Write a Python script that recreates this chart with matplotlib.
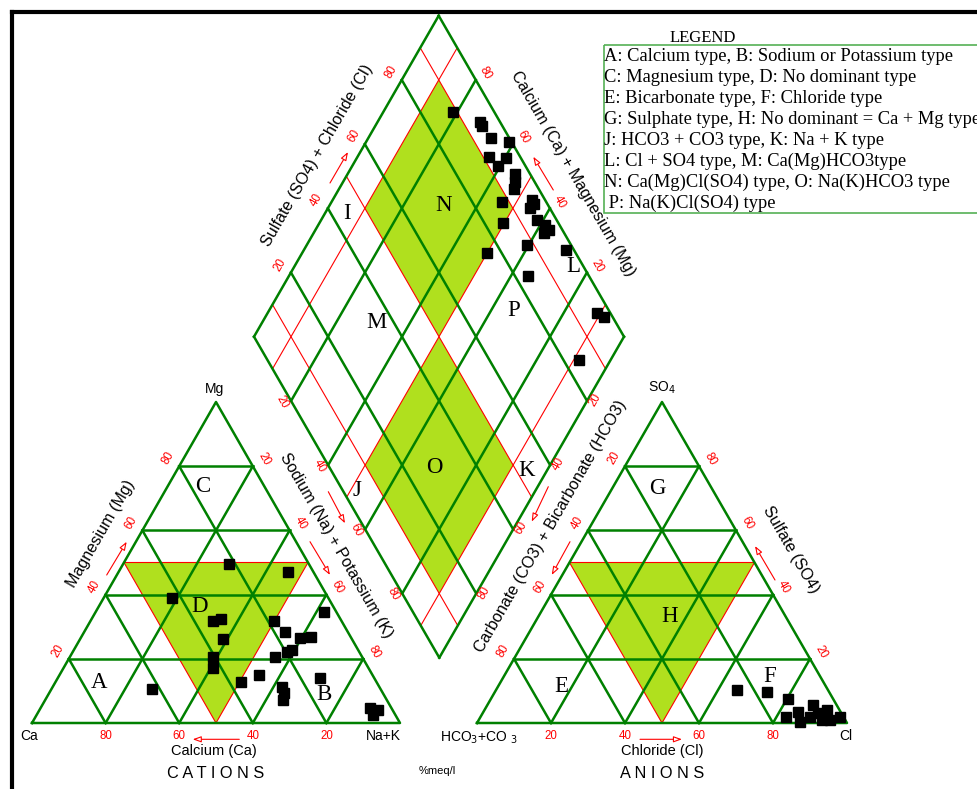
import numpy as np
import matplotlib
matplotlib.use('Agg')
import matplotlib.pyplot as plt
from matplotlib.patches import Polygon, Rectangle

# ---- sample compositions (% meq/l) ----
# cation triangle
cat_ca = [21.7, 6.8, 42.4, 34.8, 32.6, 35.0, 40.6, 42.4, 62.0, 36.8, 30.8, 18.3, 17.1,
          13.9, 10.7, 3.4, 19.6, 17.9, 23.6, 26.3, 26.8, 28.1, 14.8, 5.8, 3.9, 6.0]
cat_mg = [49.5, 47.0, 39.0, 31.9, 32.3, 26.3, 20.6, 17.1, 10.7, 12.9, 14.9, 31.9, 28.3,
          26.6, 26.9, 34.5, 22.2, 22.7, 20.7, 11.3, 9.4, 7.2, 13.9, 4.6, 4.0, 2.5]
cat_nak = [28.8, 46.2, 18.6, 33.3, 35.1, 38.7, 38.8, 40.5, 27.3, 50.3, 54.3, 49.8, 54.6,
           59.5, 62.4, 62.1, 58.2, 59.4, 55.7, 62.4, 63.8, 64.7, 71.3, 89.6, 92.1, 91.5]

# anion triangle
an_hco3 = [24.6, 16.8, 12.1, 15.6, 11.4, 12.5, 6.3, 9.0, 6.3, 3.5, 4.2, 0.9, 6.4]
an_so4 = [10.3, 9.8, 7.5, 1.8, 3.5, 0.4, 5.6, 2.0, 3.0, 4.0, 0.9, 2.0, 0.9]
an_cl = [65.1, 73.4, 80.4, 82.6, 85.1, 87.1, 88.1, 89.0, 90.7, 92.5, 94.9, 97.1, 92.7]

# central diamond
dia_nak = [18.8, 27.7, 28.9, 33.2, 38.5, 35.4, 40.4, 39.3, 45.3, 46.3, 47.2, 46.1, 53.9, 55.2,
           54.7, 49.7, 58.3, 61.4, 63.0, 62.2, 59.5, 50.0, 70.7, 64.6, 89.0, 91.7, 91.4]
dia_so4cl = [88.9, 94.7, 94.5, 95.0, 99.2, 91.5, 96.1, 92.5, 96.0, 94.6, 93.2, 88.0, 96.5, 96.4,
             94.7, 85.0, 94.7, 96.2, 96.3, 94.5, 88.2, 76.0, 97.8, 83.6, 96.5, 97.7, 84.2]

ticks = [20, 40, 60, 80]

legend_lines = [
    'A: Calcium type, B: Sodium or Potassium type',
    'C: Magnesium type, D: No dominant type',
    'E: Bicarbonate type, F: Chloride type',
    'G: Sulphate type, H: No dominant = Ca + Mg type',
    'J: HCO3 + CO3 type, K: Na + K type',
    'L: Cl + SO4 type, M: Ca(Mg)HCO3type',
    'N: Ca(Mg)Cl(SO4) type, O: Na(K)HCO3 type',
    ' P: Na(K)Cl(SO4) type',
]

GREEN = '#008000'
FILL = '#b0e01e'
RED = '#ff0000'
SANS = 'Liberation Sans'
SERIF = 'Liberation Serif'

fig = plt.figure(figsize=(9.77, 7.89), dpi=100)
ax = fig.add_axes([0, 0, 1, 1])
ax.set_xlim(0, 977)
ax.set_ylim(789, 0)
ax.axis('off')

# corners, in figure pixels
CA, NAK, MG = np.array([32, 723.]), np.array([400, 723.]), np.array([216, 402.])
HCO, CL, SO = np.array([477, 723.]), np.array([847, 723.]), np.array([662, 402.])
TOP, LEFT, RIGHT = np.array([438.7, 15.7]), np.array([254, 336.7]), np.array([624, 336.7])


def tern(a, b, c, fa, fb, fc):
    fa, fb, fc = (np.asarray(f, dtype=float) / 100. for f in (fa, fb, fc))
    x = a[0] * fa + b[0] * fb + c[0] * fc
    y = a[1] * fa + b[1] * fb + c[1] * fc
    return x, y


def dia(nak, s):
    u = (100 - np.asarray(s, dtype=float)) / 100.
    w = np.asarray(nak, dtype=float) / 100.
    x = TOP[0] + u * (LEFT - TOP)[0] + w * (RIGHT - TOP)[0]
    y = TOP[1] + u * (LEFT - TOP)[1] + w * (RIGHT - TOP)[1]
    return x, y


def red_label(x, y, s, rot):
    ax.text(x, y, s, color=RED, fontsize=8.3, family=SANS, rotation=rot,
            ha='center', va='center')


def arrow(tail, head):
    ax.annotate('', xy=head, xytext=tail,
                arrowprops=dict(arrowstyle='-|>,head_length=0.5,head_width=0.18',
                                ec=RED, fc='white', lw=0.8, shrinkA=0, shrinkB=0))


def triangle(a, b, c, left_lab, right_lab, bot_lab):
    fill = np.array([tern(a, b, c, 50, 0, 50), tern(a, b, c, 0, 50, 50), tern(a, b, c, 50, 50, 0)])
    ax.add_patch(Polygon(fill, closed=True, fc=FILL, ec=RED, lw=0.8, zorder=1))
    for k in ticks:
        for p, q in [((100 - k, 0, k), (0, 100 - k, k)),
                     ((100 - k, k, 0), (0, k, 100 - k)),
                     ((k, 100 - k, 0), (k, 0, 100 - k))]:
            x0, y0 = tern(a, b, c, *p)
            x1, y1 = tern(a, b, c, *q)
            ax.plot([x0, x1], [y0, y1], color=GREEN, lw=1.8, zorder=2)
        # tick labels
        x, y = tern(a, b, c, 100 - k, 0, k)
        red_label(x - 11, y - 8, left_lab(k), 60)
        x, y = tern(a, b, c, 0, 100 - k, k)
        red_label(x + 11, y - 7, right_lab(k), -60)
        x, y = tern(a, b, c, 100 - k, k, 0)
        red_label(x, y + 13, bot_lab(k), 0)
    ax.plot([a[0], b[0], c[0], a[0]], [a[1], b[1], c[1], a[1]], color=GREEN, lw=1.8, zorder=2)


# ---- cation triangle ----
triangle(CA, NAK, MG, lambda k: str(k), lambda k: str(100 - k), lambda k: str(100 - k))
x, y = tern(CA, NAK, MG, cat_ca, cat_nak, cat_mg)
ax.plot(x, y, 's', color='black', ms=7.5, ls='none', zorder=5)

# ---- anion triangle ----
triangle(HCO, CL, SO, lambda k: str(100 - k), lambda k: str(k), lambda k: str(k))
x, y = tern(HCO, CL, SO, an_hco3, an_cl, an_so4)
ax.plot(x, y, 's', color='black', ms=7.5, ls='none', zorder=5)

# ---- diamond ----
for lo, hi in [(50, 90), (10, 50)]:
    pts = [dia(lo, 100 - lo), dia(hi, 100 - lo), dia(hi, 100 - hi), dia(lo, 100 - hi)]
    ax.add_patch(Polygon(np.array(pts), closed=True, fc=FILL, ec='none', zorder=1))
for k in [10, 50, 90]:
    x0, y0 = dia(k, 0)
    x1, y1 = dia(k, 100)
    ax.plot([x0, x1], [y0, y1], color=RED, lw=0.8, zorder=1.5)
    x0, y0 = dia(0, k)
    x1, y1 = dia(100, k)
    ax.plot([x0, x1], [y0, y1], color=RED, lw=0.8, zorder=1.5)
for k in [0] + ticks + [100]:
    x0, y0 = dia(k, 0)
    x1, y1 = dia(k, 100)
    ax.plot([x0, x1], [y0, y1], color=GREEN, lw=1.8, zorder=2)
    x0, y0 = dia(0, k)
    x1, y1 = dia(100, k)
    ax.plot([x0, x1], [y0, y1], color=GREEN, lw=1.8, zorder=2)
for k in ticks:
    x, y = dia(0, k)
    red_label(x - 11, y - 8, str(k), 60)
    x, y = dia(100 - k, 100)
    red_label(x + 10, y - 6.5, str(k), -60)
    x, y = dia(k, 0)
    red_label(x - 9, y + 1, str(k), -60)
    x, y = dia(100, 100 - k)
    red_label(x + 8, y - 1, str(k), 60)
x, y = dia(dia_nak, dia_so4cl)
ax.plot(x, y, 's', color='black', ms=7.5, ls='none', zorder=5)

# ---- region letters ----
regions = {'A': (98.7, 683), 'B': (324, 695), 'C': (202.7, 486), 'D': (199.3, 606),
           'E': (561, 686), 'F': (770, 677), 'G': (657, 488), 'H': (670, 617),
           'I': (347, 213), 'J': (357, 490), 'K': (527, 470), 'L': (573, 266),
           'M': (376, 322), 'N': (444, 205), 'O': (434, 467), 'P': (514, 310)}
for lab, (x, y) in regions.items():
    ax.text(x, y, lab, fontsize=16.5, family=SERIF, ha='center', va='center', zorder=4)

# ---- axis titles ----
tkw = dict(fontsize=10.5, family=SANS, ha='center', va='center')
rkw = dict(fontsize=11.6, family=SANS, ha='center', va='center')
ax.text(100.8, 534, 'Magnesium (Mg)', rotation=60, **rkw)
ax.text(335.8, 546, 'Sodium (Na) + Potassium (K)', rotation=-60, **rkw)
ax.text(214.3, 751, 'Calcium (Ca)', **tkw)
ax.text(317, 156, 'Sulfate (SO4) + Chloride (Cl)', rotation=60, **rkw)
ax.text(573, 174, 'Calcium (Ca) + Magnesium (Mg)', rotation=-60, **rkw)
ax.text(551, 526, 'Carbonate (CO3) + Bicarbonate (HCO3)', rotation=60, **rkw)
ax.text(791, 550, 'Sulfate (SO4)', rotation=-60, **rkw)
ax.text(662, 751, 'Chloride (Cl)', **tkw)
ax.text(215.7, 774, 'C A T I O N S', fontsize=11.7, family=SANS, ha='center', va='center')
ax.text(662, 774, 'A N I O N S', fontsize=11.7, family=SANS, ha='center', va='center')
ax.text(437, 771, '%meq/l', fontsize=8, family=SANS, ha='center', va='center')

ckw = dict(fontsize=10, family=SANS, va='center')
ax.text(29, 736, 'Ca', ha='center', **ckw)
ax.text(214.3, 389, 'Mg', ha='center', **ckw)
ax.text(383, 736, 'Na+K', ha='center', **ckw)
ax.text(440, 738, 'HCO$_3$+CO $_3$', ha='left', **ckw)
ax.text(662, 388, 'SO$_4$', ha='center', **ckw)
ax.text(846, 736, 'Cl', ha='center', **ckw)

arrow((106.7, 575), (126.7, 541.7))
arrow((310, 541.7), (330, 575))
arrow((328.3, 491.7), (345, 523.3))
arrow((239.3, 739.3), (192.7, 739.3))
arrow((330, 183), (348, 152))
arrow((553.3, 190), (533.3, 156.7))
arrow((548.3, 486.7), (531.7, 521.7))
arrow((570, 541.7), (551.7, 575))
arrow((775, 580), (755, 546))
arrow((640, 739.3), (682, 739.3))

# ---- legend ----
ax.text(703, 38, 'LEGEND', fontsize=12, family=SERIF, ha='center', va='center')
ax.add_patch(Rectangle((603.5, 45), 420, 167.5, fill=False, ec='#55b055', lw=1.2))
for i, line in enumerate(legend_lines):
    ax.text(604, 56 + i * 21.1, line, fontsize=13.3, family=SERIF, ha='left', va='center')

# frame on the left and top
ax.plot([11.5, 11.5], [789, 11.5], color='black', lw=3)
ax.plot([11.5, 977], [11.5, 11.5], color='black', lw=3)

fig.savefig('out.png', dpi=100)
